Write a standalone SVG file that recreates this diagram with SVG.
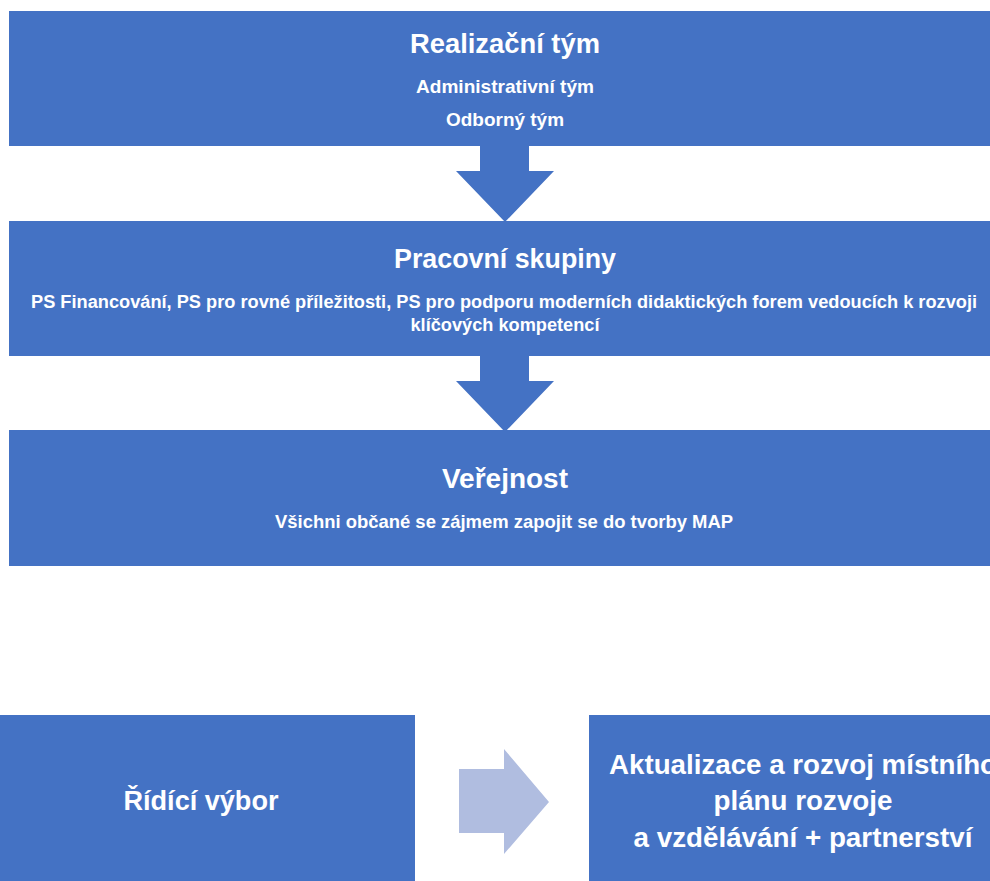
<svg xmlns="http://www.w3.org/2000/svg" width="990" height="881" viewBox="0 0 990 881">
<style>
.box{fill:#4472C4}
.arr{fill:#4472C4}
.arrl{fill:#B0BDE0}
text{font-family:"Liberation Sans",Arial,sans-serif;font-weight:bold;fill:#FFFFFF;text-anchor:middle}
.t{font-size:27px}
.s{font-size:19px}
.b{font-size:27px}
</style>
<rect width="990" height="881" fill="#FFFFFF"/>
<g id="connectors">
<polygon class="arr" points="480,146 529,146 529,171 554,171 505,222 456,171 480,171"/>
<polygon class="arr" points="480,356 529,356 529,381 554,381 505,432 456,381 480,381"/>
<polygon class="arrl" points="459,769 504,769 504,749 549,802 504,854 504,833 459,833"/>
</g>
<g id="realizacni-tym">
<rect class="box" x="9" y="11" width="990" height="135"/>
<text class="t" x="505" y="53" textLength="190" lengthAdjust="spacingAndGlyphs">Realizační tým</text>
<text class="s" x="505" y="93" textLength="178" lengthAdjust="spacingAndGlyphs">Administrativní tým</text>
<text class="s" x="505" y="126" textLength="118" lengthAdjust="spacingAndGlyphs">Odborný tým</text>
</g>
<g id="pracovni-skupiny">
<rect class="box" x="9" y="221" width="990" height="135"/>
<text class="t" x="505" y="268" textLength="222" lengthAdjust="spacingAndGlyphs">Pracovní skupiny</text>
<text x="504" y="308" style="font-size:17.5px" textLength="946" lengthAdjust="spacingAndGlyphs">PS Financování, PS pro rovné příležitosti, PS pro podporu moderních didaktických forem vedoucích k rozvoji</text>
<text class="s" x="505" y="331" textLength="189" lengthAdjust="spacingAndGlyphs">klíčových kompetencí</text>
</g>
<g id="verejnost">
<rect class="box" x="9" y="430" width="990" height="136"/>
<text class="t" x="505" y="488" textLength="126" lengthAdjust="spacingAndGlyphs">Veřejnost</text>
<text class="s" x="504" y="528" textLength="458" lengthAdjust="spacingAndGlyphs">Všichni občané se zájmem zapojit se do tvorby MAP</text>
</g>
<g id="ridici-vybor">
<rect class="box" x="0" y="715" width="415" height="170"/>
<text class="b" x="201" y="810" textLength="155" lengthAdjust="spacingAndGlyphs">Řídící výbor</text>
</g>
<g id="aktualizace">
<rect class="box" x="589" y="715" width="410" height="170"/>
<text class="b" x="803" y="774" textLength="388" lengthAdjust="spacingAndGlyphs">Aktualizace a rozvoj místního</text>
<text class="b" x="803" y="810" textLength="179" lengthAdjust="spacingAndGlyphs">plánu rozvoje</text>
<text class="b" x="803" y="847" textLength="339" lengthAdjust="spacingAndGlyphs">a vzdělávání + partnerství</text>
</g>
</svg>
